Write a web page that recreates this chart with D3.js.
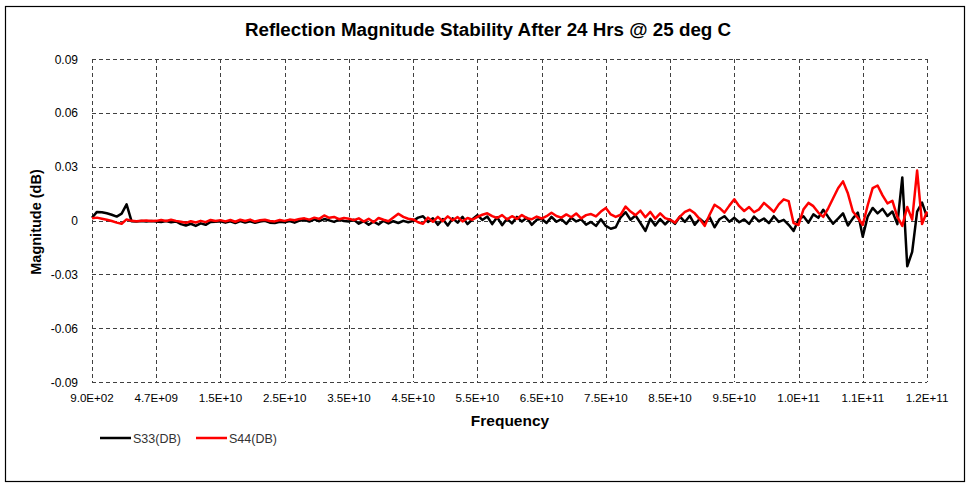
<!DOCTYPE html>
<html>
<head>
<meta charset="utf-8">
<script src="https://cdn.jsdelivr.net/npm/d3@7/dist/d3.min.js"></script>
<style>
  html, body { margin: 0; padding: 0; background: #fff; }
  svg { display: block; }
</style>
</head>
<body>
<svg id="chart" width="971" height="487"></svg>
<script>
// ---------- DATA ----------
const title = "Reflection Magnitude Stability After 24 Hrs @ 25 deg C";
const xTickLabels = ["9.0E+02","4.7E+09","1.5E+10","2.5E+10","3.5E+10","4.5E+10","5.5E+10",
                     "6.5E+10","7.5E+10","8.5E+10","9.5E+10","1.0E+11","1.1E+11","1.2E+11"];
const yTicks = [-0.09, -0.06, -0.03, 0, 0.03, 0.06, 0.09];
const seriesNames = ["S33(DB)", "S44(DB)"];
// values in milli-dB (÷1000 -> dB), 13 points per labelled interval
const s33 = [
  1.5, 4.8, 4.6, 4.0, 3.2, 2.2, 3.8, 9.0, -0.4, -0.6, -0.3, -0.5, -0.3,
  -0.6, -0.9, -0.3, -1.0, -0.5, -2.0, -2.8, -1.8, -3.0, -1.6, -2.4, -0.8, -0.7,
  -0.4, -1.2, -0.5, -1.4, -0.3, -1.1, -0.4, -1.3, -0.6, -0.2, -1.2, -1.4, -0.7,
  -1.0, -0.3, -1.2, -0.1, 0.4, -0.6, 0.6, -0.4, 0.8, 0.1, -0.8, 0.5, -0.3,
  -0.5, 0.4, -1.8, -0.4, -2.4, -0.6, -2.2, -0.2, -1.6, -0.4, -1.4, -0.2, -1.0,
  -0.2, 1.6, 2.4, -0.8, 1.2, -2.4, 0.8, -2.8, 1.2, -1.2, 2.0, -2.0, 0.7,
  3.0, 0.3, 2.2, -2.0, 1.8, -2.6, 1.0, -1.6, 2.0, -0.6, 1.5, -2.4, 0.4,
  1.0, -1.4, 2.0, -0.7, 0.8, -1.9, 1.5, -0.5, 0.6, -2.3, -0.8, -3.0, 0.7,
  -3.0, -4.6, -3.8, 1.8, 4.6, 0.4, 2.8, -1.4, -5.8, 1.0, -2.8, 0.8, -2.2,
  0.6, -1.9, 2.2, -0.8, 2.6, -2.4, 1.0, -1.4, 1.9, -3.8, 0.7, 2.4, -0.7,
  1.5, -1.0, 0.6, -1.9, 2.2, -0.5, 1.1, -1.5, 2.4, -0.8, 0.4, -2.4, -5.8,
  0.5, 2.4, -1.2, 3.4, 1.5, 6.0, 2.0, -1.8, 1.0, 4.0, -2.8, 1.2, 4.4,
  -9.0, 2.2, 7.0, 4.0, 6.5, 2.5, 5.0, -2.0, 24.0, -25.5, -17.5, 5.0, 10.0, 2.0
];
const s44 = [
  1.2, 1.6, 1.0, 0.4, -0.3, -1.2, -1.8, 0.6, -0.2, -0.4, -0.2, 0.0, -0.3,
  -0.2, 0.3, -0.3, 0.4, -0.2, -0.7, -1.3, -0.4, -1.1, -0.2, -0.9, 0.3, -0.3,
  0.2, -0.5, 0.3, -0.7, 0.4, -0.3, 0.5, -0.6, 0.1, 0.4, -0.3, -0.5, 0.3,
  -0.2, 0.5, 0.1, 0.9, 1.2, 0.5, 1.6, 0.9, 2.8, 1.5, 2.0, 0.7, 1.4,
  1.0, 0.2, 1.2, -0.6, 1.0, -0.9, 1.4, 0.4, -0.4, 1.7, 3.8, 2.0, 1.0,
  0.6, -1.0, -1.8, 1.6, -0.7, 2.0, -0.4, 2.3, 0.1, 1.9, -0.5, 1.4, 0.4,
  2.0, 3.2, 4.0, 2.4, 1.4, 3.0, 0.6, 2.4, 0.9, 3.0, 1.3, 0.7, 2.2,
  1.1, 2.4, 4.3, 2.5, 1.6, 3.4, 1.8, 3.9, 1.2, 3.0, 3.6, 2.3, 5.0,
  7.0, 3.4, 2.0, 3.2, 7.8, 5.0, 3.0, 5.5, 1.8, 4.8, 1.0, 4.0, 1.3,
  0.4, -1.2, 2.2, 4.8, 6.0, 4.0, 0.8, -3.0, 3.2, 8.8, 7.0, 4.4, 8.3,
  11.8, 8.0, 5.3, 7.5, 4.6, 6.2, 9.8, 7.4, 4.8, 9.0, 11.8, 10.8, -1.5,
  -2.5, 6.2, 9.8, 8.0, 4.4, 2.0, 6.8, 12.4, 18.0, 21.8, 15.0, 5.0, 1.5,
  -2.5, 8.5, 18.0, 19.5, 14.0, 9.5, 11.0, 2.0, -3.0, 7.5, 0.5, 27.8, -2.0, 5.0
];
const seriesColors = ["#000000", "#ff0000"];

// ---------- LAYOUT ----------
const svg = d3.select("#chart");
const plot = { left: 92, right: 927, top: 59, bottom: 382 };
const nPts = s33.length;
const perLabel = (nPts - 1) / (xTickLabels.length - 1);
const FONT = "Liberation Sans, Arial, sans-serif";

const x = d3.scaleLinear().domain([0, nPts - 1]).range([plot.left, plot.right]);
const y = d3.scaleLinear().domain([-0.09, 0.09]).range([plot.bottom, plot.top]);

// outer border
svg.append("rect").attr("x", 5.5).attr("y", 6.5).attr("width", 959).attr("height", 475)
  .attr("fill", "#fff").attr("stroke", "#000").attr("stroke-width", 1.2);

// title
svg.append("text").attr("x", 488).attr("y", 36).attr("text-anchor", "middle")
  .attr("font-family", FONT).attr("font-weight", "bold")
  .attr("font-size", 18.8).attr("fill", "#000").text(title);

// grid: horizontal
const grid = svg.append("g");
grid.selectAll("line.h").data(yTicks).join("line")
  .attr("x1", plot.left).attr("x2", plot.right)
  .attr("y1", d => Math.round(y(d)) + 0.5).attr("y2", d => Math.round(y(d)) + 0.5)
  .attr("stroke", "#404040").attr("stroke-width", 1).attr("stroke-dasharray", "4,3");
// grid: vertical
const xTickIdx = xTickLabels.map((d, i) => i * perLabel);
grid.selectAll("line.v").data(xTickIdx).join("line")
  .attr("x1", d => Math.round(x(d)) + 0.5).attr("x2", d => Math.round(x(d)) + 0.5)
  .attr("y1", plot.top).attr("y2", plot.bottom)
  .attr("stroke", "#404040").attr("stroke-width", 1).attr("stroke-dasharray", "4,3");

// y tick labels
svg.append("g").selectAll("text").data(yTicks).join("text")
  .attr("x", 78).attr("y", d => y(d) + 4.5).attr("text-anchor", "end")
  .attr("font-family", FONT).attr("font-size", 12)
  .attr("fill", "#000")
  .text(d => d === 0 ? "0" : d3.format(".2f")(d).replace("−", "-"));

// x tick labels
svg.append("g").selectAll("text").data(xTickLabels).join("text")
  .attr("x", (d, i) => x(i * perLabel)).attr("y", 402).attr("text-anchor", "middle")
  .attr("font-family", FONT).attr("font-size", 11.6)
  .attr("fill", "#000").text(d => d);

// axis titles
svg.append("text").attr("x", 510).attr("y", 426).attr("text-anchor", "middle")
  .attr("font-family", FONT).attr("font-weight", "bold")
  .attr("font-size", 15.5).attr("fill", "#000").text("Frequency");
svg.append("text").attr("transform", "translate(41,222) rotate(-90)").attr("text-anchor", "middle")
  .attr("font-family", FONT).attr("font-weight", "bold")
  .attr("font-size", 14.5).attr("fill", "#000").text("Magnitude (dB)");

// series lines
const line = d3.line().x((d, i) => x(i)).y(d => y(d / 1000));
[s33, s44].forEach((s, k) => {
  svg.append("path").datum(s).attr("d", line)
    .attr("fill", "none").attr("stroke", seriesColors[k]).attr("stroke-width", 2.5)
    .attr("stroke-linejoin", "round");
});

// legend
const leg = svg.append("g");
const legX = [100, 196];
seriesNames.forEach((name, k) => {
  leg.append("line").attr("x1", legX[k]).attr("x2", legX[k] + 31)
    .attr("y1", 438).attr("y2", 438).attr("stroke", seriesColors[k]).attr("stroke-width", 2.5);
  leg.append("text").attr("x", legX[k] + 33).attr("y", 442.5)
    .attr("font-family", FONT).attr("font-size", 12.5)
    .attr("fill", "#333").text(name);
});
</script>
</body>
</html>
